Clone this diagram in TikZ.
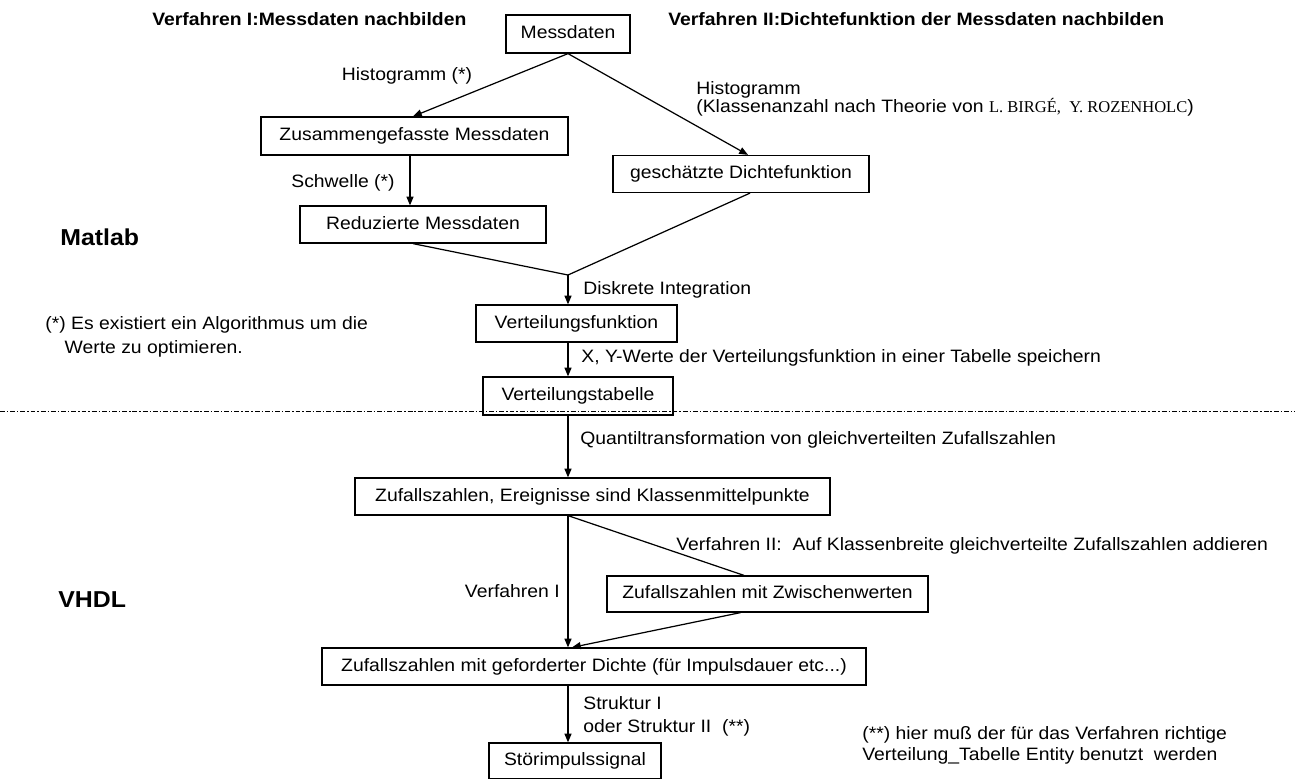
\documentclass[tikz,border=0pt]{standalone}
\usepackage{fontspec}
\setmainfont{Liberation Sans}[FakeStretch=1.08]
\newfontfamily\namefont{Liberation Serif}
\usetikzlibrary{arrows.meta,positioning,calc}

\begin{document}
\begin{tikzpicture}[x=0.02cm,y=-0.02cm,>={Triangle[length=5pt,width=4pt]}]
\tikzset{
box/.style={draw,line width=.7pt,inner sep=0pt,font=\fontsize{10.2}{12}\selectfont,
text height=.74em,text depth=.2em},
lbl/.style={inner sep=0pt,font=\fontsize{10.2}{12}\selectfont,text height=.74em,text depth=.2em},
note/.style={inner sep=0pt,align=left},
ttl/.style={inner sep=0pt,font=\bfseries\fontsize{10.2}{12}\selectfont,text height=.74em,text depth=.2em},
side/.style={inner sep=0pt,font=\bfseries\fontsize{13.1}{15}\selectfont,text height=.74em,text depth=.2em},
arr/.style={->,line width=.7pt},
link/.style={line width=.7pt},
sep/.style={line width=.55pt,dash pattern=on 2.8pt off 1.1pt on .8pt off 1.1pt}
}
\useasboundingbox (0,0) rectangle (1295,778);

\node[ttl,anchor=west] (t1) at (152,21) {Verfahren I:Messdaten nachbilden};
\node[ttl,anchor=west] (t2) at (668,21) {Verfahren II:Dichtefunktion der Messdaten nachbilden};
\node[side,anchor=west] (matlab) at (60,241) {Matlab};
\node[side,anchor=west] (vhdl) at (58,603) {VHDL};

\node[box,minimum width=2.48cm,minimum height=.76cm] (mess) at (568,34) {Messdaten};
\node[box,minimum width=6.14cm,minimum height=.76cm] (zus) at (414.5,136) {Zusammengefasste Messdaten};
\node[box,minimum width=4.92cm,minimum height=.74cm] (red) at (423,224.5) {Reduzierte Messdaten};
\node[box,minimum width=5.12cm,minimum height=.74cm] (gesch) at (741,174) {geschätzte Dichtefunktion};
\node[box,minimum width=4.02cm,minimum height=.74cm] (vfunk) at (576.5,323.5) {Verteilungsfunktion};
\node[box,minimum width=3.8cm,minimum height=.76cm] (vtab) at (578,396) {Verteilungstabelle};
\node[box,minimum width=9.5cm,minimum height=.74cm] (ereig) at (592.5,496.5) {Zufallszahlen, Ereignisse sind Klassenmittelpunkte};
\node[box,minimum width=6.42cm,minimum height=.72cm] (zwisch) at (767.5,594) {Zufallszahlen mit Zwischenwerten};
\node[box,minimum width=10.88cm,minimum height=.74cm] (dichte) at (594,666.5) {Zufallszahlen mit geforderter Dichte (für Impulsdauer etc...)};
\node[box,minimum width=3.44cm,minimum height=.72cm] (stoer) at (575,761) {Störimpulssignal};
\coordinate (J) at (568,275);

\draw[sep] (0,411) -- (1295,411);

\draw[arr] (mess.south) -- ($(zus.north)+(-1.5,0)$);
\draw[arr] (mess.south) -- ($(gesch.north)+(7,0)$);
\draw[arr] ($(zus.south)+(-4.5,0)$) coordinate (s1) -- (s1 |- red.north);
\draw[link] ($(red.south)+(-10,0)$) -- (J);
\draw[link] ($(gesch.south)+(9,0)$) -- (J);
\draw[arr] (J) -- (J |- vfunk.north);
\draw[arr] (J |- vfunk.south) -- (J |- vtab.north);
\draw[arr] (J |- vtab.south) -- (J |- ereig.north);
\draw[arr] (J |- ereig.south) -- (J |- dichte.north);
\draw[link] (J |- ereig.south) -- ($(zwisch.north)+(-23.5,0)$);
\draw[arr] ($(zwisch.south)+(-27,0)$) -- ($(dichte.north)+(-22,0)$);
\draw[arr] (J |- dichte.south) -- (J |- stoer.north);

\node[lbl] (histl) at (407,76) {Histogramm (*)};
\node[note,anchor=west,font=\fontsize{10.2}{10.2}\selectfont] (histr) at (696,99)
  {Histogramm\\(Klassenanzahl nach Theorie von {\namefont\fontsize{9.4}{10}\selectfont L. BIRGÉ,\ \ Y. ROZENHOLC})};
\node[lbl] (schw) at (343,183) {Schwelle (*)};
\node[lbl,anchor=west] (diskr) at (583,290) {Diskrete Integration};
\node[lbl,anchor=west] (xy) at (581,358) {X, Y-Werte der Verteilungsfunktion in einer Tabelle speichern};
\node[lbl,anchor=west] (quant) at (580,440) {Quantiltransformation von gleichverteilten Zufallszahlen};
\node[lbl,anchor=west] (v2) at (676,546) {Verfahren II:\ \ Auf Klassenbreite gleichverteilte Zufallszahlen addieren};
\node[lbl,anchor=east] (v1) at (560,593) {Verfahren I};
\node[note,anchor=west,font=\fontsize{10.2}{13.1}\selectfont] (strukt) at (583,716) {Struktur I\\oder Struktur II\ \ (**)};
\node[note,anchor=west,font=\fontsize{10.2}{12}\selectfont] (hinw) at (862,745)
  {(**) hier muß der für das Verfahren richtige\\Verteilung\_Tabelle Entity benutzt\ \ werden};
\node[note,anchor=west,font=\fontsize{10.2}{13.7}\selectfont] (algo) at (45,337)
  {(*) Es existiert ein Algorithmus um die\\\hspace*{11pt}Werte zu optimieren.};
\end{tikzpicture}
\end{document}
